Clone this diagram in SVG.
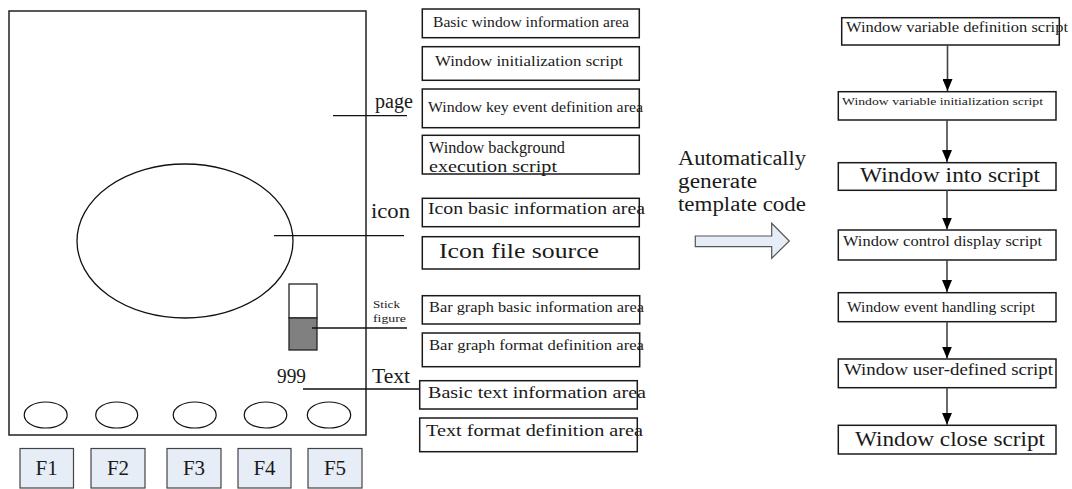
<svg xmlns="http://www.w3.org/2000/svg" width="1072" height="489" viewBox="0 0 1072 489">
<style>
text{font-family:"Liberation Serif","DejaVu Serif",serif;fill:#1a1a1a}
.box{fill:#fff;stroke:#1a1a1a;stroke-width:1.5}
.fk{fill:#e6edf7;stroke:#444;stroke-width:1.2}
.ln{stroke:#111;stroke-width:1.3;fill:none}
.ar{stroke:#444;stroke-width:1.6;fill:none}
.s13{font-size:14px}
.s16{font-size:17px}
.s19{font-size:20px}
.s20{font-size:21px}
</style>
<defs>
<marker id="ah" markerWidth="12" markerHeight="10" refX="12" refY="5" orient="auto" markerUnits="userSpaceOnUse" viewBox="0 0 12 10">
<path d="M0,0 L12,5 L0,10 Z" fill="#000"/>
</marker>
</defs>
<rect width="1072" height="489" fill="#fff"/>

<g id="screen">
<rect x="9" y="11" width="357" height="424" fill="#fff" stroke="#222" stroke-width="1.5"/>
<ellipse cx="185" cy="241" rx="108" ry="77" fill="none" stroke="#111" stroke-width="1.3"/>
<rect x="289" y="284" width="28" height="34" fill="#fff" stroke="#222" stroke-width="1.3"/>
<rect x="289" y="318" width="28" height="32" fill="#808080" stroke="#222" stroke-width="1.3"/>
<text x="277" y="383" class="s19" textLength="29" lengthAdjust="spacingAndGlyphs">999</text>
<ellipse cx="45.7" cy="415" rx="21.5" ry="13" fill="none" stroke="#111" stroke-width="1.2"/>
<ellipse cx="116.7" cy="415" rx="21" ry="13" fill="none" stroke="#111" stroke-width="1.2"/>
<ellipse cx="194.7" cy="415" rx="21.5" ry="13" fill="none" stroke="#111" stroke-width="1.2"/>
<ellipse cx="265.5" cy="415" rx="21.3" ry="13" fill="none" stroke="#111" stroke-width="1.2"/>
<ellipse cx="329" cy="415" rx="21.7" ry="13" fill="none" stroke="#111" stroke-width="1.2"/>
</g>

<g id="fkeys">
<g id="F1"><rect class="fk" x="20" y="448.5" width="53.5" height="39.5"/><text x="46.7" y="475" class="s20" text-anchor="middle">F1</text></g>
<g id="F2"><rect class="fk" x="91" y="448.5" width="54" height="39.5"/><text x="118" y="475" class="s20" text-anchor="middle">F2</text></g>
<g id="F3"><rect class="fk" x="167" y="448.5" width="54" height="39.5"/><text x="194" y="475" class="s20" text-anchor="middle">F3</text></g>
<g id="F4"><rect class="fk" x="238" y="448.5" width="53" height="39.5"/><text x="264.5" y="475" class="s20" text-anchor="middle">F4</text></g>
<g id="F5"><rect class="fk" x="308" y="448.5" width="54" height="39.5"/><text x="335" y="475" class="s20" text-anchor="middle">F5</text></g>
</g>

<g id="labels">
<text x="375" y="108" class="s19" textLength="38" lengthAdjust="spacingAndGlyphs">page</text>
<text x="371" y="218" class="s19" textLength="39" lengthAdjust="spacingAndGlyphs">icon</text>
<text x="373" y="308" font-size="10.5" textLength="27" lengthAdjust="spacingAndGlyphs">Stick</text>
<text x="373" y="322" font-size="10.5" textLength="33" lengthAdjust="spacingAndGlyphs">figure</text>
<text x="372" y="383" class="s19" textLength="38" lengthAdjust="spacingAndGlyphs">Text</text>
</g>

<g id="pointers">
<line class="ln" x1="333" y1="115.7" x2="407" y2="115.7"/>
<line class="ln" x1="274" y1="235.7" x2="404" y2="235.7"/>
<line class="ln" x1="312" y1="328" x2="407" y2="328"/>
<line class="ln" x1="303" y1="389" x2="420" y2="389"/>
</g>

<g id="page-areas">
<g id="m1"><rect class="box" x="422.3" y="9" width="217" height="28.7"/><text x="433" y="27" class="s13" textLength="196" lengthAdjust="spacingAndGlyphs">Basic window information area</text></g>
<g id="m2"><rect class="box" x="422.3" y="46.7" width="217" height="33.6"/><text x="435" y="66" class="s13" textLength="188" lengthAdjust="spacingAndGlyphs">Window initialization script</text></g>
<g id="m3"><rect class="box" x="422.3" y="89" width="217" height="38.7"/><text x="428" y="112" class="s13" textLength="215" lengthAdjust="spacingAndGlyphs">Window key event definition area</text></g>
<g id="m4"><rect class="box" x="422.3" y="135.3" width="217" height="38.7"/><text x="429" y="153" class="s16" textLength="136" lengthAdjust="spacingAndGlyphs">Window background</text><text x="429" y="172" class="s16" textLength="128" lengthAdjust="spacingAndGlyphs">execution script</text></g>
<g id="m5"><rect class="box" x="422.3" y="198.3" width="217" height="28.4"/><text x="428" y="214" class="s16" textLength="217" lengthAdjust="spacingAndGlyphs">Icon basic information area</text></g>
<g id="m6"><rect class="box" x="422.3" y="236.7" width="217" height="32.3"/><text x="439" y="258" class="s19" textLength="160" lengthAdjust="spacingAndGlyphs">Icon file source</text></g>
<g id="m7"><rect class="box" x="422.3" y="295.7" width="217.4" height="28.3"/><text x="429" y="312" class="s13" textLength="215" lengthAdjust="spacingAndGlyphs">Bar graph basic information area</text></g>
<g id="m8"><rect class="box" x="422.3" y="333" width="217.4" height="33.7"/><text x="429" y="350" class="s13" textLength="215" lengthAdjust="spacingAndGlyphs">Bar graph format definition area</text></g>
<g id="m9"><rect class="box" x="419.7" y="380.7" width="217.6" height="28.3"/><text x="428" y="398" class="s16" textLength="218" lengthAdjust="spacingAndGlyphs">Basic text information area</text></g>
<g id="m10"><rect class="box" x="419.7" y="418" width="217.6" height="33.7"/><text x="426" y="436" class="s16" textLength="217" lengthAdjust="spacingAndGlyphs">Text format definition area</text></g>
</g>

<g id="generate">
<text x="678" y="165" class="s19" textLength="128" lengthAdjust="spacingAndGlyphs">Automatically</text>
<text x="678" y="188" class="s19" textLength="79" lengthAdjust="spacingAndGlyphs">generate</text>
<text x="678" y="211" class="s19" textLength="128" lengthAdjust="spacingAndGlyphs">template code</text>
<path d="M695.3,236 L771.7,236 L771.7,223.3 L789.3,241 L771.7,258.3 L771.7,246.7 L695.3,246.7 Z" fill="#e6edf7" stroke="#555" stroke-width="1.2"/>
</g>

<g id="flow">
<g id="f1"><rect class="box" x="841.7" y="17.7" width="217.6" height="27.3"/><text x="846" y="32" class="s13" textLength="222" lengthAdjust="spacingAndGlyphs">Window variable definition script</text></g>
<g id="f2"><rect class="box" x="838.3" y="91.7" width="217.7" height="28.3"/><text x="842" y="105" font-size="11" textLength="201" lengthAdjust="spacingAndGlyphs">Window variable initialization script</text></g>
<g id="f3"><rect class="box" x="838.3" y="162.7" width="217.7" height="27.6"/><text x="860" y="182" class="s20" textLength="180" lengthAdjust="spacingAndGlyphs">Window into script</text></g>
<g id="f4"><rect class="box" x="838.3" y="230" width="217.7" height="30"/><text x="843" y="246" class="s13" textLength="199" lengthAdjust="spacingAndGlyphs">Window control display script</text></g>
<g id="f5"><rect class="box" x="838.3" y="292.7" width="217.7" height="29"/><text x="847" y="312" class="s13" textLength="188" lengthAdjust="spacingAndGlyphs">Window event handling script</text></g>
<g id="f6"><rect class="box" x="838.3" y="359" width="217.7" height="28.7"/><text x="844" y="375" class="s16" textLength="209" lengthAdjust="spacingAndGlyphs">Window user-defined script</text></g>
<g id="f7"><rect class="box" x="838.3" y="425.3" width="217.7" height="28.7"/><text x="855" y="446" class="s20" textLength="190" lengthAdjust="spacingAndGlyphs">Window close script</text></g>
</g>

<g id="connectors">
<line class="ar" x1="947.5" y1="45" x2="947.5" y2="91" stroke="#111" marker-end="url(#ah)"/>
<line class="ar" x1="947" y1="120" x2="947" y2="162" marker-end="url(#ah)"/>
<line class="ar" x1="947" y1="190.3" x2="947" y2="229.5" marker-end="url(#ah)"/>
<line class="ar" x1="947" y1="260" x2="947" y2="292" marker-end="url(#ah)"/>
<line class="ar" x1="947" y1="321.7" x2="947" y2="358.5" marker-end="url(#ah)"/>
<line class="ar" x1="947" y1="387.7" x2="947" y2="424.8" marker-end="url(#ah)"/>
</g>
</svg>
